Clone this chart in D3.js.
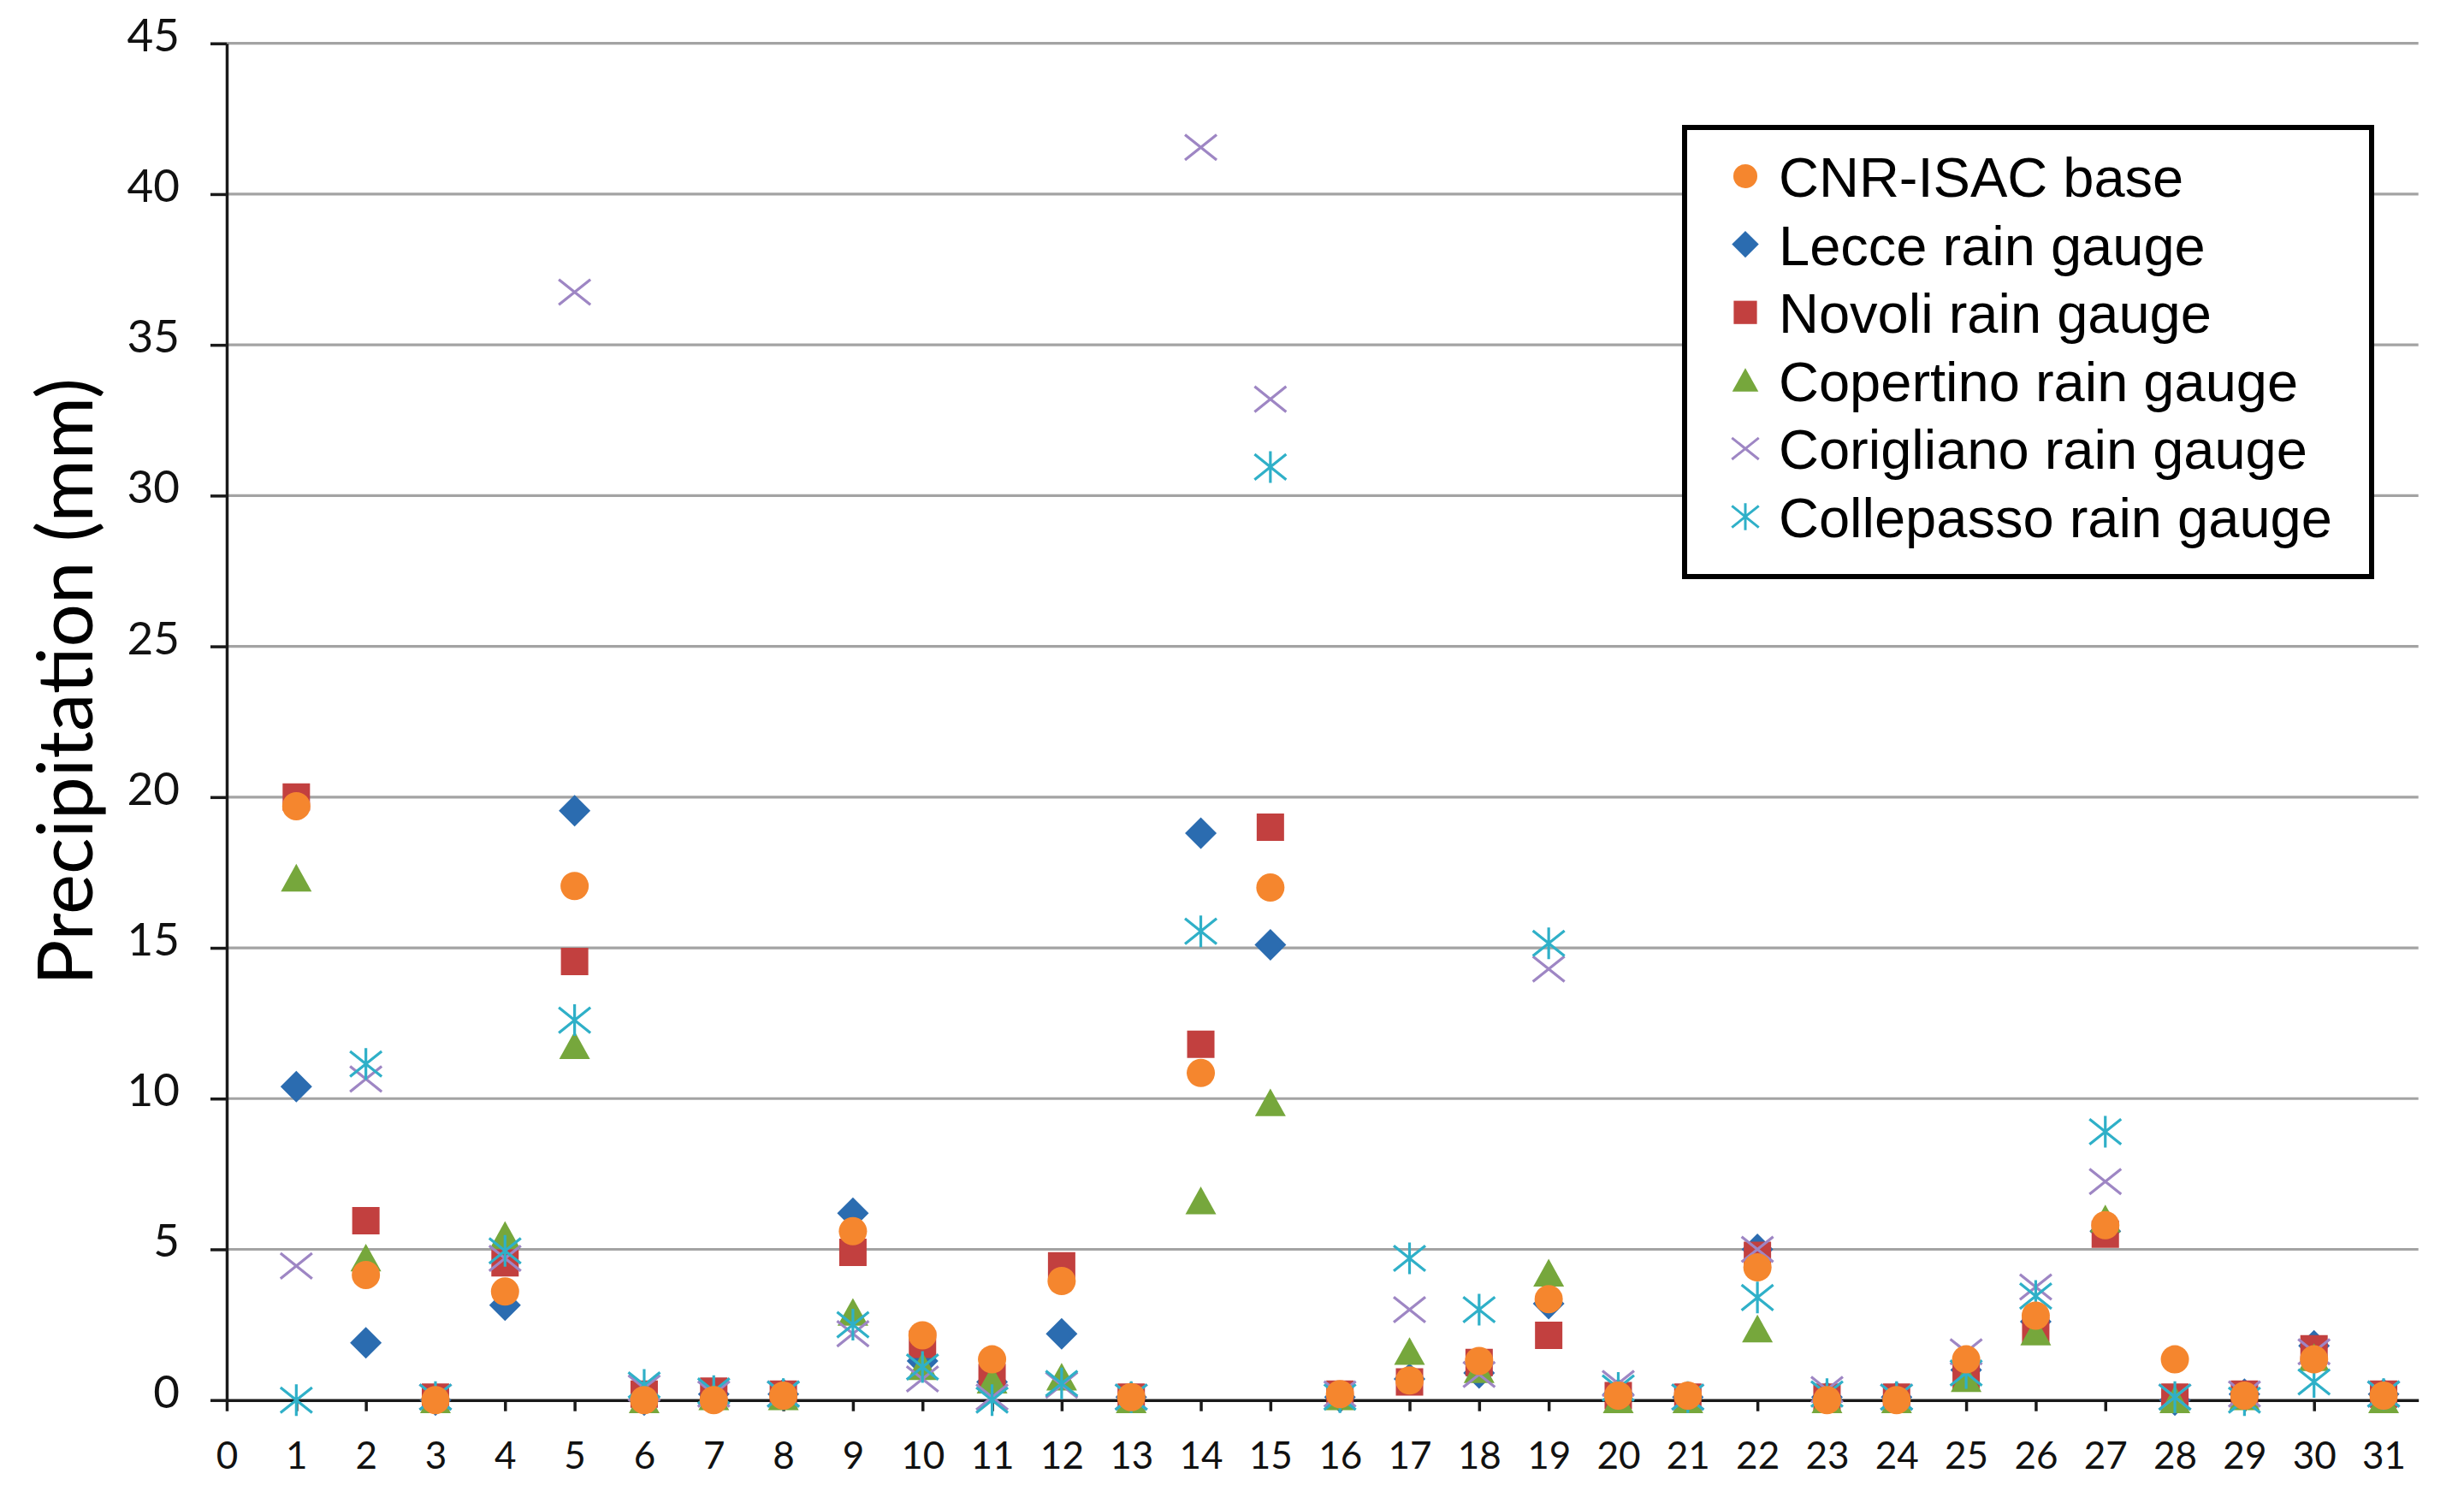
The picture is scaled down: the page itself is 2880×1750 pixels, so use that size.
<!DOCTYPE html>
<html>
<head>
<meta charset="utf-8">
<script src="https://cdn.jsdelivr.net/npm/d3@7"></script>
<style>
  html, body { margin: 0; padding: 0; background: #ffffff; }
  svg { display: block; }
</style>
</head>
<body>
<svg id="chart" width="2880" height="1750"></svg>
<script>
// ---------------- DATA ----------------
const days = d3.range(1, 32);
const xTicks = d3.range(0, 32);
const yTicks = [0, 5, 10, 15, 20, 25, 30, 35, 40, 45];

const seriesNames = [
  "CNR-ISAC base",
  "Lecce rain gauge",
  "Novoli rain gauge",
  "Copertino rain gauge",
  "Corigliano rain gauge",
  "Collepasso rain gauge"
];

const cnrIsac = [19.7, 4.15, 0, 3.6, 17.05, 0, 0, 0.15, 5.6, 2.15, 1.35, 3.95, 0.1, 10.85, 17.0, 0.2,
  0.65, 1.3, 3.35, 0.15, 0.15, 4.4, 0, 0, 1.35, 2.8, 5.8, 1.35, 0.15, 1.35, 0.15];
const lecce = [10.4, 1.9, 0, 3.15, 19.55, 0, 0.2, 0.2, 6.2, 1.3, 0.6, 2.2, 0.1, 18.8, 15.1, 0.1,
  0.7, 0.9, 3.2, 0.2, 0.1, 5.0, 0.1, 0.1, 1.0, 2.6, 5.6, 0, 0.2, 1.8, 0.2];
const novoli = [20.0, 5.95, 0.1, 4.55, 14.55, 0.2, 0.3, 0.2, 4.9, 1.85, 0.75, 4.45, 0.1, 11.8, 19.0, 0.2,
  0.6, 1.25, 2.15, 0.15, 0.1, 4.8, 0.1, 0.1, 0.75, 2.3, 5.5, 0.1, 0.2, 1.7, 0.2];
const copertino = [17.3, 4.7, 0, 5.45, 11.75, 0, 0.1, 0.1, 2.9, 1.1, 0.65, 0.75, 0, 6.6, 9.85, 0.1,
  1.6, 1.0, 4.2, 0, 0, 2.35, 0, 0, 0.7, 2.25, 6.0, 0, 0.1, 1.4, 0];
const corigliano = [4.45, 10.65, 0.1, 4.7, 36.75, 0.4, 0.2, 0.2, 2.2, 0.7, 0.1, 0.5, 0.1, 41.55, 33.2, 0.2,
  3.0, 0.85, 14.3, 0.55, 0.1, 5.0, 0.35, 0.1, 1.6, 3.75, 7.25, 0.1, 0.2, 1.6, 0.2];
const collepasso = [0, 11.15, 0.1, 4.95, 12.6, 0.5, 0.3, 0.2, 2.5, 1.1, 0, 0.55, 0.1, 15.55, 30.95, 0.1,
  4.7, 3.0, 15.15, 0.4, 0.1, 3.4, 0.2, 0.1, 0.9, 3.45, 8.9, 0.1, 0, 0.6, 0.2];

// ---------------- STYLE ----------------
const colors = {
  cnr: "#F5862E", lecce: "#2B6CB0", novoli: "#C2403F",
  copertino: "#76A73C", corigliano: "#9E86C4", collepasso: "#2FB0C8"
};

// custom marker shapes (size = nominal width in px)
const shapeCircle = { draw(ctx, s) { const r = s / 2; ctx.moveTo(r, 0); ctx.arc(0, 0, r, 0, 2 * Math.PI); ctx.closePath(); } };
const shapeDiamond = { draw(ctx, s) { const r = s / 2; ctx.moveTo(0, -r); ctx.lineTo(r, 0); ctx.lineTo(0, r); ctx.lineTo(-r, 0); ctx.closePath(); } };
const shapeSquare = { draw(ctx, s) { const r = s / 2; ctx.rect(-r, -r, s, s); } };
const shapeTriangle = { draw(ctx, s) { const r = s / 2; ctx.moveTo(0, -r * 0.95); ctx.lineTo(r, r * 0.85); ctx.lineTo(-r, r * 0.85); ctx.closePath(); } };
const shapeX = { draw(ctx, s) { const r = s / 2; ctx.moveTo(-r, -r * 0.8); ctx.lineTo(r, r * 0.8); ctx.moveTo(-r, r * 0.8); ctx.lineTo(r, -r * 0.8); } };
const shapeStar = { draw(ctx, s) { const r = s / 2; ctx.moveTo(-r, -r * 0.8); ctx.lineTo(r, r * 0.8); ctx.moveTo(-r, r * 0.8); ctx.lineTo(r, -r * 0.8); ctx.moveTo(0, -r); ctx.lineTo(0, r); } };

const series = [
  { name: seriesNames[1], values: lecce, shape: shapeDiamond, size: 37, color: colors.lecce, filled: true },
  { name: seriesNames[2], values: novoli, shape: shapeSquare, size: 32, color: colors.novoli, filled: true },
  { name: seriesNames[3], values: copertino, shape: shapeTriangle, size: 36, color: colors.copertino, filled: true },
  { name: seriesNames[4], values: corigliano, shape: shapeX, size: 37, color: colors.corigliano, filled: false },
  { name: seriesNames[5], values: collepasso, shape: shapeStar, size: 37, color: colors.collepasso, filled: false },
  { name: seriesNames[0], values: cnrIsac, shape: shapeCircle, size: 33, color: colors.cnr, filled: true }
];
const legendOrder = [5, 0, 1, 2, 3, 4];

// ---------------- LAYOUT ----------------
const svg = d3.select("#chart");
const x = d3.scaleLinear().domain([0, 31.5]).range([265, 2826.7]);
const y = d3.scaleLinear().domain([0, 45]).range([1636.7, 50.7]);

// gridlines
svg.append("g")
  .selectAll("line")
  .data(yTicks.filter(d => d > 0))
  .join("line")
  .attr("x1", x(0)).attr("x2", x(31.5))
  .attr("y1", d => y(d)).attr("y2", d => y(d))
  .attr("stroke", "#A3A3A3").attr("stroke-width", 3.2);

// y axis
const yAxis = svg.append("g")
  .attr("transform", `translate(${x(0)},0)`)
  .call(d3.axisLeft(y).tickValues(yTicks).tickSizeInner(19).tickSizeOuter(0).tickPadding(36));
yAxis.select(".domain").attr("stroke", "#1a1a1a").attr("stroke-width", 3.5);
yAxis.selectAll(".tick line").attr("stroke", "#1a1a1a").attr("stroke-width", 3.5);
yAxis.selectAll(".tick text")
  .attr("font-family", "Lato, 'Open Sans', sans-serif")
  .attr("font-size", 53).attr("fill", "#111").attr("dy", "0.16em");

// x axis
const xAxis = svg.append("g")
  .attr("transform", `translate(0,${y(0)})`)
  .call(d3.axisBottom(x).tickValues(xTicks).tickFormat(d3.format("d")).tickSizeInner(13).tickSizeOuter(0).tickPadding(36));
xAxis.select(".domain").attr("stroke", "#1a1a1a").attr("stroke-width", 3.5);
xAxis.selectAll(".tick line").attr("stroke", "#1a1a1a").attr("stroke-width", 3.5);
xAxis.selectAll(".tick text")
  .attr("font-family", "Lato, 'Open Sans', sans-serif")
  .attr("font-size", 44).attr("fill", "#111");

// y axis title
svg.append("text")
  .attr("transform", "translate(108,797) rotate(-90)")
  .attr("text-anchor", "middle")
  .attr("font-family", "Lato, 'Open Sans', sans-serif")
  .attr("font-size", 89)
  .attr("fill", "#000")
  .text("Precipitation (mm)");

// markers
const symbolGen = d3.symbol();
series.forEach(s => {
  svg.append("g")
    .selectAll("path")
    .data(days.map((d, i) => ({ day: d, v: s.values[i] })))
    .join("path")
    .attr("transform", d => `translate(${x(d.day)},${y(d.v)})`)
    .attr("d", symbolGen.type(s.shape).size(s.size)())
    .attr("fill", s.filled ? s.color : "none")
    .attr("stroke", s.filled ? "none" : s.color)
    .attr("stroke-width", s.filled ? 0 : 3.2);
});

// legend
const legX = 1969, legY = 149, legW = 803, legH = 525;
const legend = svg.append("g");
legend.append("rect")
  .attr("x", legX).attr("y", legY).attr("width", legW).attr("height", legH)
  .attr("fill", "#fff").attr("stroke", "#000").attr("stroke-width", 6);
legendOrder.forEach((si, row) => {
  const s = series[si];
  const cy = 206 + row * 79.6;
  legend.append("path")
    .attr("transform", `translate(2040,${cy})`)
    .attr("d", d3.symbol().type(s.shape).size(s.size * 0.85)())
    .attr("fill", s.filled ? s.color : "none")
    .attr("stroke", s.filled ? "none" : s.color)
    .attr("stroke-width", s.filled ? 0 : 3);
  legend.append("text")
    .attr("x", 2079).attr("y", cy + 24)
    .attr("font-family", "'Liberation Sans', Arial, sans-serif")
    .attr("font-size", 65)
    .attr("fill", "#000")
    .text(s.name);
});
</script>
</body>
</html>
